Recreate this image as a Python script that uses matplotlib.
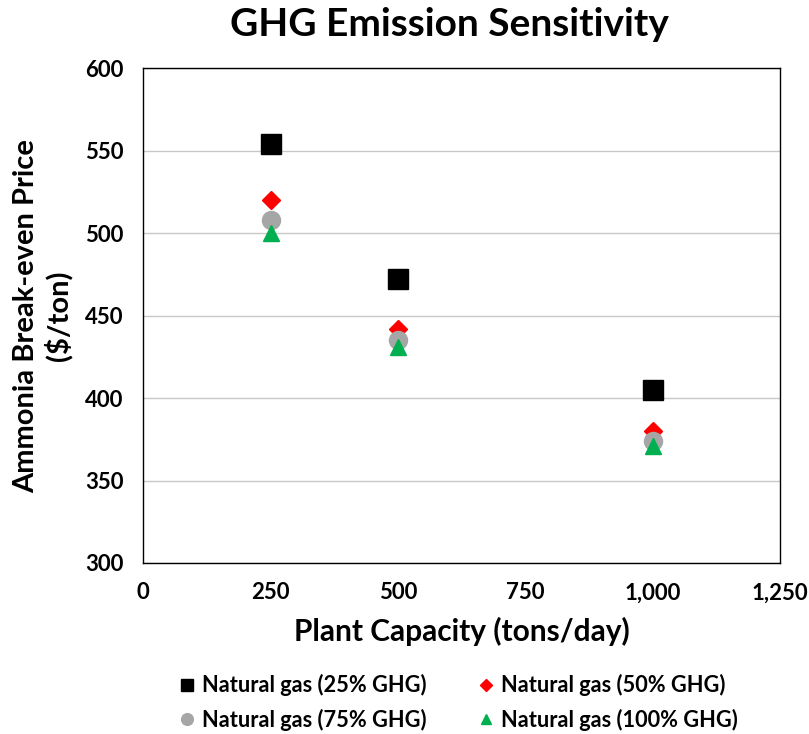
import matplotlib.pyplot as plt

# dados
capacidade = [250, 500, 1000]
ghg_25 = [554, 472, 405]
ghg_50 = [520, 442, 380]
ghg_75 = [508, 435, 374]
ghg_100 = [500, 431, 371]

xticks = [0, 250, 500, 750, 1000, 1250]
xtick_labels = ['0', '250', '500', '750', '1,000', '1,250']
yticks = [300, 350, 400, 450, 500, 550, 600]

plt.rcParams['font.family'] = ['Lato', 'DejaVu Sans']
plt.rcParams['font.weight'] = 'bold'

fig = plt.figure(figsize=(8.09, 7.34), dpi=100)
ax = fig.add_axes([0.177, 0.233, 0.787, 0.674])

l25, = ax.plot(capacidade, ghg_25, 's', color='black', markersize=14, label='Natural gas (25% GHG)', zorder=3)
l50, = ax.plot(capacidade, ghg_50, 'D', color='#ff0000', markersize=9, label='Natural gas (50% GHG)', zorder=3)
l75, = ax.plot(capacidade, ghg_75, 'o', color='#a6a6a6', markersize=13, label='Natural gas (75% GHG)', zorder=4)
l100, = ax.plot(capacidade, ghg_100, '^', color='#00b050', markersize=12, label='Natural gas (100% GHG)', zorder=5)

ax.set_xlim(0, 1250)
ax.set_ylim(300, 600)
ax.set_xticks(xticks)
ax.set_xticklabels(xtick_labels)
ax.set_yticks(yticks)
ax.tick_params(length=0, labelsize=16)
ax.tick_params(axis='x', pad=14)
ax.tick_params(axis='y', pad=14)
ax.yaxis.grid(True, color='#c8c8c8', linewidth=1)
ax.set_axisbelow(True)
for s in ax.spines.values():
    s.set_color('black')
    s.set_linewidth(1)

fig.text(0.555, 0.966, 'GHG Emission Sensitivity', fontsize=28, fontweight='bold',
         ha='center', va='center')
ax.set_xlabel('Plant Capacity (tons/day)', fontsize=21.5, fontweight='bold', labelpad=10)
ax.set_ylabel('Ammonia Break-even Price\n($/ton)', fontsize=21, fontweight='bold', labelpad=9)

# ordem da legenda: linha 1 -> 25%, 50%; linha 2 -> 75%, 100%
fig.legend([l25, l75, l50, l100],
           [l25.get_label(), l75.get_label(), l50.get_label(), l100.get_label()],
           loc='lower center', bbox_to_anchor=(0.565, -0.022), ncol=2, frameon=False,
           fontsize=15.7, markerscale=0.65, handletextpad=0.2, columnspacing=2.2,
           labelspacing=0.55, handlelength=1.0)

fig.savefig('out.png', dpi=100)
